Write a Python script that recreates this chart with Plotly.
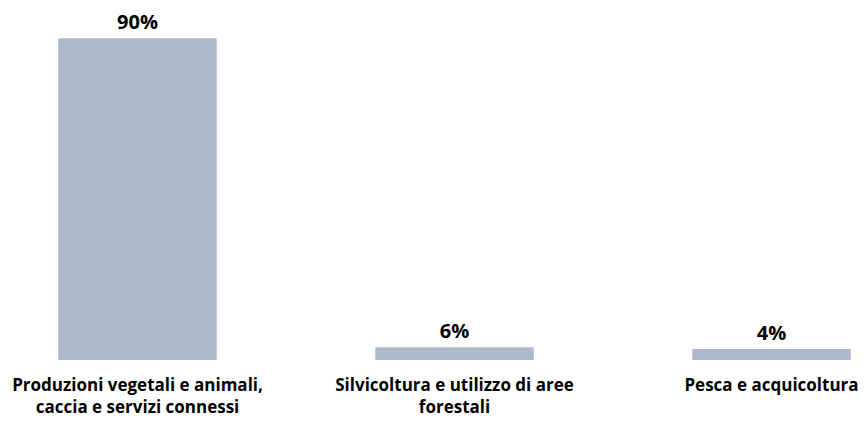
import plotly.graph_objects as go

# categories and values as shown in the picture
categories = [
    "Produzioni vegetali e animali,<br>caccia e servizi connessi",
    "Silvicoltura e utilizzo di aree<br>forestali",
    "Pesca e acquicoltura",
]
# bar heights as drawn in the picture (the small bars are drawn shorter than the labels say)
bar_heights = [90, 3.55, 3.1]
value_labels = ["90%", "6%", "4%"]

positions = list(range(len(categories)))

fig = go.Figure(
    go.Bar(
        x=positions,
        y=bar_heights,
        width=0.5,
        marker=dict(color="#ADB9CA", line=dict(width=0)),
        text=value_labels,
        textposition="outside",
        textfont=dict(size=20, color="#000000", family="Open Sans", weight="bold"),
        cliponaxis=False,
    )
)

# the page body adds an 8px offset, so ranges/margins are set to compensate
fig.update_layout(
    width=867,
    height=423,
    margin=dict(l=0, r=0, t=0, b=71),
    plot_bgcolor="white",
    paper_bgcolor="white",
    showlegend=False,
    font=dict(family="Open Sans", size=17, color="#000000"),
)

fig.update_xaxes(
    range=[-0.4085, 2.3265],
    tickmode="array",
    tickvals=positions,
    ticktext=[f"<b>{c}</b>" for c in categories],
    showgrid=False,
    showline=False,
    zeroline=False,
    ticks="",
    ticklabelstandoff=13,
    ticklabeloverflow="allow",
    automargin=False,
)
fig.update_yaxes(
    range=[0, 98.48],
    visible=False,
    automargin=False,
)

fig.write_html("out.html")
